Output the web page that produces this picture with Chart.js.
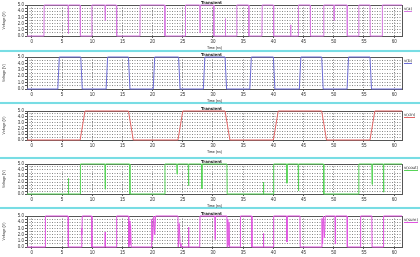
<!DOCTYPE html>
<html>
<head>
<meta charset="utf-8">
<script src="https://cdn.jsdelivr.net/npm/chart.js@4"></script>
<style>
  body { margin: 0; background: #fff; }
  #wrap { position: relative; width: 420px; height: 257px; overflow: hidden; font-family: "DejaVu Sans", sans-serif; }
  #wrap canvas { position: absolute; left: 0; }
  .sep { position: absolute; left: 0; width: 420px; height: 2px; background: #78dde4; box-shadow: 0 0 1px #b8f0f3; }
  .ttl { position: absolute; left: 201px; font-size: 4px; font-weight: bold; color: #222; }
  .lg { position: absolute; left: 404px; font-size: 4px; color: #222; border-bottom: 1px solid; line-height: 5px; }
</style>
</head>
<body>
<div id="wrap"></div>
<script>
// names of the five probed nodes
const seriesNames = ["v(a)", "v(b)", "v(cin)", "v(cout)", "v(sum)"];
const seriesColors = ["#d87ae2", "#6c6cd6", "#e06464", "#58d458", "#e054e0"];

// x axis (ns) and y axis (V) tick labels
const timeTicks = [0, 5, 10, 15, 20, 25, 30, 35, 40, 45, 50, 55, 60];
const voltTicks = [0, 1, 2, 3, 4, 5];

// waveforms: [time ns, volts]
const waveA = [[-1,0],[2.0,0],[2.05,5],[6.0,5],[6.05,0.4],[6.1,5],[8.0,5],[8.05,0],[9.9,0],[9.95,5],
  [12.1,5],[12.15,2.5],[12.2,5],[14.0,5],[14.05,0],[17.9,0],[17.95,5],[22.0,5],[22.05,0],[25.4,0],[25.45,5],
  [27.8,5],[27.85,0.5],[27.9,5],[30.1,5],[30.15,0],[32.0,0],[32.05,2.8],[32.1,0],[33.9,0],[33.95,5],
  [35.9,5],[35.95,0],[38.1,0],[38.15,5],[40.0,5],[40.05,0],[42.8,0],[42.85,1.8],[42.9,0],[44.1,0],[44.15,5],
  [46.1,5],[46.15,0],[48.3,0],[48.35,5],[50.0,5],[50.05,2.5],[50.1,5],[52.2,5],[52.25,0],[54.1,0],[54.15,5],
  [56.0,5],[56.05,0],[58.0,0],[58.05,5],[62,5]];
const waveB = [[-1,0],[4.3,0],[4.55,5],[8.1,5],[8.35,0],[12.3,0],[12.55,5],[16.0,5],[16.25,0],[20.1,0],[20.35,5],
  [24.3,5],[24.55,0],[28.4,0],[28.65,5],[32.0,5],[32.25,0],[36.1,0],[36.35,5],[40.0,5],[40.25,0],[44.3,0],[44.55,5],
  [48.0,5],[48.25,0],[52.2,0],[52.45,5],[56.0,5],[56.25,0],[62,0]];
const waveCin = [[-1,0],[8.0,0],[8.8,5],[16.0,5],[16.8,0],[24.2,0],[25.0,5],[32.0,5],[32.8,0],[40.0,0],[40.8,5],
  [48.0,5],[48.8,0],[56.0,0],[56.8,5],[62,5]];
const waveCout = [[-1,0],[6.0,0],[6.05,2.6],[6.1,0],[8.0,0],[8.05,5],[12.1,5],[12.15,0.8],[12.2,5],[16.2,5],[16.25,0],
  [22.0,0],[22.05,5],[24.0,5],[24.05,3.3],[24.1,5],[25.9,5],[25.95,1.4],[26.0,5],[28.1,5],[28.15,0.9],[28.2,5],
  [32.3,5],[32.35,0],[38.3,0],[38.35,2.0],[38.4,0],[40.0,0],[40.05,5],[42.2,5],[42.25,1.8],[42.3,5],[44.1,5],
  [44.15,0.5],[44.2,5],[48.3,5],[48.35,0],[54.1,0],[54.15,5],[56.3,5],[56.35,1.6],[56.4,5],[58.2,5],[58.25,0.3],
  [58.3,5],[62,5]];
const waveSum = [[-1,0],[2.2,0],[2.25,5],[6.0,5],[6.05,0],[8.2,0],[8.25,3.0],[8.3,2.0],[8.35,5],[9.9,5],[9.95,0],
  [12.1,0],[12.15,2.4],[12.2,0],[14.0,0],[14.05,5],[16.0,5],[16.05,0],[16.15,4.2],[16.25,0.4],[16.35,3.6],[16.45,0],
  [19.8,0],[19.85,4.5],[20.0,1.0],[20.2,5],[20.35,2.0],[20.5,5],[24.2,5],[24.25,0],[24.4,3.8],[24.55,0.6],[24.7,0],
  [25.9,0],[25.95,3.2],[26.0,0],[27.8,0],[27.85,5],[30.3,5],[30.35,1.2],[30.4,5],[32.3,5],[32.35,0],[32.45,4.5],
  [32.55,0.3],[32.65,4.0],[32.75,0],[34.5,0],[34.55,5],[36.4,5],[36.45,0],[38.3,0],[38.35,2.2],[38.4,0],[40.0,0],
  [40.05,5],[42.2,5],[42.25,0.8],[42.3,5],[44.4,5],[44.45,0],[48.0,0],[48.05,4.6],[48.15,0.5],[48.3,5],[48.45,1.5],
  [48.6,5],[50.2,5],[50.25,0.5],[50.3,5],[52.2,5],[52.25,0],[54.4,0],[54.45,5],[56.3,5],[56.35,0],[58.2,0],
  [58.25,5],[62,5]];
const waves = [waveA, waveB, waveCin, waveCout, waveSum];

// layout of the stacked panels (plot top / bottom in page px)
const plotTops = [5, 57, 111, 164, 216];
const plotBottoms = [36, 89, 140, 194, 247];
const sepRows = [50, 102, 157, 207];

const wrap = document.getElementById("wrap");

// full box around the plot area, under the traces
const boxPlugin = {
  id: "box",
  beforeDatasetsDraw(chart) {
    const a = chart.chartArea, ctx = chart.ctx;
    ctx.save();
    ctx.strokeStyle = "#555";
    ctx.lineWidth = 1;
    ctx.strokeRect(Math.round(a.left) + 0.5, Math.round(a.top) + 0.5,
      Math.round(a.right - a.left), Math.round(a.bottom - a.top));
    ctx.restore();
  }
};

sepRows.forEach(y => {
  const d = document.createElement("div");
  d.className = "sep";
  d.style.top = y + "px";
  wrap.appendChild(d);
});

waves.forEach((w, i) => {
  const padTop = 4, axisH = 14;
  const h = plotBottoms[i] - plotTops[i] + padTop + axisH;
  const cv = document.createElement("canvas");
  cv.width = 420; cv.height = h;
  cv.style.top = (plotTops[i] - padTop) + "px";
  wrap.appendChild(cv);

  const t = document.createElement("div");
  t.className = "ttl";
  t.textContent = "Transient";
  t.style.top = (plotTops[i] - 5) + "px";
  wrap.appendChild(t);

  const lg = document.createElement("div");
  lg.className = "lg";
  lg.textContent = seriesNames[i];
  lg.style.top = (plotTops[i] + 1) + "px";
  lg.style.borderColor = seriesColors[i];
  wrap.appendChild(lg);

  new Chart(cv, {
    type: "line",
    data: {
      datasets: [{
        label: seriesNames[i],
        data: w.map(p => ({ x: p[0], y: p[1] })),
        borderColor: seriesColors[i],
        borderWidth: 1,
        pointRadius: 0,
        tension: 0,
        fill: false,
        clip: { left: 0, right: 0, top: 2, bottom: 2 }
      }]
    },
    options: {
      responsive: false,
      animation: false,
      devicePixelRatio: 1,
      layout: { padding: { top: padTop, right: 18, left: 0, bottom: 0 } },
      plugins: { legend: { display: false }, tooltip: { enabled: false } },
      scales: {
        x: {
          type: "linear", min: -0.8, max: 61.3,
          afterFit: s => { s.height = axisH; },
          afterBuildTicks: s => { s.ticks = timeTicks.map(v => ({ value: v })); },
          ticks: { font: { size: 4.5 }, color: "#333", padding: 1, maxRotation: 0, autoSkip: false },
          grid: { color: "#888", tickLength: 2, tickColor: "#555" },
          border: { display: false, dash: [1, 1.5] },
          title: { display: true, text: "Time (ns)", font: { size: 3.6 }, color: "#222", padding: 0 }
        },
        y: {
          min: 0, max: 5,
          afterFit: s => { s.width = 27; },
          afterBuildTicks: s => {
            const out = [];
            for (let k = 0; k <= 10; k++) out.push({ value: k * 0.5 });
            s.ticks = out;
          },
          ticks: {
            font: { size: 4.5 }, color: "#333", padding: 1, autoSkip: false,
            callback: v => voltTicks.includes(v) ? v.toFixed(1) : ""
          },
          grid: { color: "#888", tickLength: 2, tickColor: "#555" },
          border: { display: false, dash: [1, 1.5] },
          title: { display: true, text: "Voltage (V)", font: { size: 3.6 }, color: "#222", padding: { top: 2, bottom: 0 } }
        }
      }
    },
    plugins: [boxPlugin]
  });
});
</script>
</body>
</html>
